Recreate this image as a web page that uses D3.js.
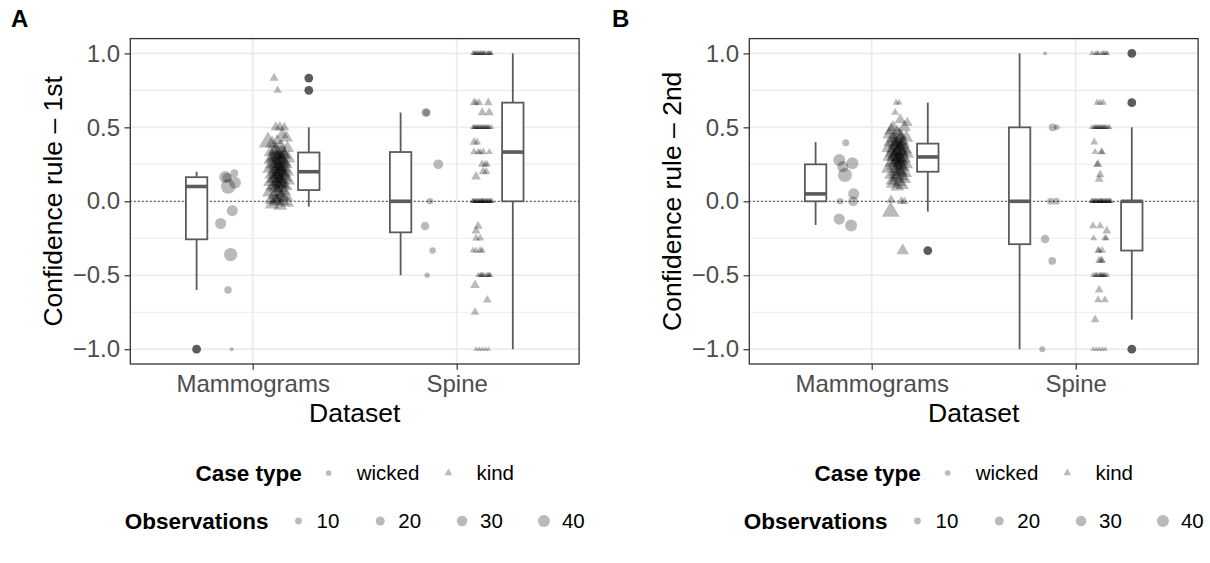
<!DOCTYPE html>
<html>
<head>
<meta charset="utf-8">
<script src="https://cdn.jsdelivr.net/npm/d3@7"></script>
<style>
  body { margin: 0; background: #fff; }
  svg { display: block; font-family: "Liberation Sans", Arial, Helvetica, sans-serif; }
</style>
</head>
<body>
<svg id="chart" width="1210" height="563"></svg>
<script>
const width = 1210;
const height = 563;

const datasets = ["Mammograms", "Spine"];
const caseTypes = ["wicked", "kind"];
const yTicks = [-1, -0.5, 0, 0.5, 1];
const yMinor = [-0.75, -0.25, 0.25, 0.75];
const sizeBreaks = [10, 20, 30, 40];
const yTitles = ["Confidence rule \u2013 1st", "Confidence rule \u2013 2nd"];

// box stats: [lower whisker, q1, median, q3, upper whisker]
const box1stMamWicked = [-0.6, -0.257, 0.1, 0.163, 0.2];
const box1stMamKind = [-0.036, 0.076, 0.2, 0.33, 0.5];
const box1stSpiWicked = [-0.5, -0.21, 0, 0.333, 0.6];
const box1stSpiKind = [-1, 0, 0.333, 0.667, 1];
const out1stMamWicked = [-1];
const out1stMamKind = [0.833, 0.75];

const box2ndMamWicked = [-0.16, 0, 0.05, 0.25, 0.4];
const box2ndMamKind = [-0.07, 0.2, 0.3, 0.39, 0.667];
const box2ndSpiWicked = [-1, -0.29, 0, 0.5, 1];
const box2ndSpiKind = [-0.8, -0.333, 0, 0, 0.5];
const out2ndMamKind = [-0.333];
const out2ndSpiKind = [1, 0.667, -1];

// points: [confidence, observations, jitter (share of category step)]
const pts1stMamWicked = [
  [0.165, 40, -0.01], [0.16, 25, 0.0], [0.19, 14, 0.035], [0.1, 62, 0.005], [0.125, 40, 0.038],
  [-0.063, 34, 0.025], [-0.15, 34, -0.032], [-0.36, 50, 0.017], [-0.6, 13, 0.004], [-1, 2, 0.022]
];
const pts1stMamKind = [
  [0.833, 10, -0.02], [0.75, 8, -0.003], [0.5, 14, -0.012], [0.5, 16, 0.008], [0.5, 12, 0.03],
  [0.4, 55, -0.05],
  [0.45, 22, 0.02], [0.43, 26, 0.04], [0.41, 18, -0.005], [0.39, 28, -0.03], [0.38, 22, 0.012],
  [0.36, 26, 0.045], [0.35, 28, -0.012], [0.34, 22, 0.022], [0.33, 26, -0.038], [0.32, 28, 0.0],
  [0.31, 22, 0.03], [0.30, 26, -0.022], [0.30, 18, 0.014], [0.29, 28, 0.05], [0.28, 26, -0.04],
  [0.28, 22, 0.005], [0.27, 28, 0.026], [0.26, 26, -0.015], [0.25, 22, 0.04], [0.25, 28, -0.03],
  [0.24, 26, 0.01], [0.23, 22, -0.005], [0.22, 28, 0.032], [0.22, 26, -0.045], [0.21, 22, 0.016],
  [0.20, 28, -0.02], [0.20, 26, 0.045], [0.19, 22, 0.0], [0.18, 26, -0.035], [0.18, 28, 0.025],
  [0.17, 22, -0.01], [0.16, 26, 0.035], [0.15, 28, -0.025], [0.15, 22, 0.01], [0.14, 26, 0.05],
  [0.13, 28, -0.04], [0.12, 22, 0.0], [0.12, 26, 0.02], [0.11, 28, -0.015], [0.10, 22, 0.04],
  [0.10, 26, -0.03], [0.09, 28, 0.01], [0.08, 22, -0.005], [0.07, 26, 0.03], [0.06, 28, -0.045],
  [0.05, 22, 0.015], [0.04, 26, -0.02], [0.03, 28, 0.04], [0.02, 22, 0.0], [0.01, 26, -0.035],
  [0.0, 28, 0.02], [0.0, 32, -0.01], [-0.01, 26, 0.045], [-0.02, 32, -0.03], [-0.03, 28, 0.01],
  [0.34, 24, -0.02], [0.33, 24, 0.01], [0.32, 26, 0.03], [0.31, 24, -0.01], [0.30, 26, 0.0],
  [0.29, 24, -0.03], [0.28, 26, 0.015], [0.27, 24, -0.005], [0.26, 26, 0.03], [0.25, 24, 0.0],
  [0.24, 26, -0.02], [0.23, 24, 0.02], [0.22, 26, 0.005], [0.21, 24, -0.015], [0.20, 26, 0.01],
  [0.19, 24, 0.03], [0.18, 26, -0.005], [0.17, 24, 0.015], [0.16, 26, -0.02], [0.15, 24, 0.0],
  [0.14, 26, 0.02], [0.13, 24, -0.01], [0.12, 26, 0.01], [0.11, 24, 0.025], [0.09, 26, -0.015],
  [0.06, 24, 0.0], [0.03, 26, 0.02], [0.01, 24, -0.01]
];
const pts1stSpiWicked = [
  [0.6, 18, -0.027], [0.6, 14, -0.022], [0.25, 25, 0.035], [0.0, 9, -0.006],
  [-0.167, 18, -0.03], [-0.333, 9, 0.007], [-0.5, 5, -0.02]
];
const pts1stSpiKind = [
  [1, 3, -0.045], [1, 2, -0.035], [1, 3, -0.025], [1, 2, -0.015], [1, 3, -0.005], [1, 2, 0.005],
  [1, 3, 0.015], [1, 2, 0.025], [1, 3, 0.035], [1, 2, 0.045], [1, 3, 0.0], [1, 2, -0.02],
  [1, 3, -0.03], [1, 3, -0.01], [1, 3, 0.01], [1, 3, 0.03], [1, 3, 0.04], [1, 3, -0.04],
  [0.667, 9, -0.04], [0.667, 6, -0.03], [0.667, 7, -0.015], [0.667, 9, 0.03],
  [0.6, 10, 0.0], [0.6, 10, 0.035],
  [0.5, 3, -0.045], [0.5, 3, -0.035], [0.5, 3, -0.025], [0.5, 3, -0.015], [0.5, 3, -0.005], [0.5, 3, 0.005],
  [0.5, 3, 0.015], [0.5, 3, 0.025], [0.5, 3, 0.035], [0.5, 3, 0.045], [0.5, 3, 0.0], [0.5, 3, -0.02],
  [0.5, 3, -0.03], [0.5, 3, -0.01], [0.5, 3, 0.01], [0.5, 3, 0.02], [0.5, 3, 0.03], [0.5, 3, -0.04],
  [0.4, 9, -0.04], [0.4, 7, -0.025],
  [0.333, 7, -0.04], [0.333, 5, -0.02], [0.333, 5, -0.01], [0.333, 7, 0.005], [0.333, 5, 0.035],
  [0.25, 9, 0.0], [0.25, 7, 0.015], [0.25, 5, 0.025],
  [0.2, 10, 0.005], [0.2, 7, 0.02], [0.167, 12, -0.03],
  [0, 3, -0.048], [0, 3, -0.04], [0, 3, -0.032], [0, 3, -0.024], [0, 3, -0.016], [0, 3, -0.008],
  [0, 3, 0.0], [0, 3, 0.008], [0, 3, 0.016], [0, 3, 0.024], [0, 3, 0.032], [0, 3, 0.04],
  [0, 3, 0.048], [0, 3, -0.012], [0, 3, 0.012], [0, 3, 0.028],
  [0, 3, -0.044], [0, 3, -0.036], [0, 3, -0.028], [0, 3, -0.02], [0, 3, -0.004], [0, 3, 0.004],
  [0, 3, 0.02], [0, 3, 0.036], [0, 3, 0.044], [0, 3, 0.0],
  [-0.167, 10, -0.02], [-0.2, 10, -0.03], [-0.25, 7, -0.03], [-0.25, 7, -0.01],
  [-0.333, 5, -0.045], [-0.333, 5, -0.03], [-0.333, 7, -0.01], [-0.333, 5, 0.0],
  [-0.5, 3, -0.02], [-0.5, 3, -0.005], [-0.5, 3, 0.005], [-0.5, 3, 0.015], [-0.5, 3, 0.03], [-0.5, 3, 0.04],
  [-0.5, 3, -0.01], [-0.5, 3, 0.0], [-0.5, 3, 0.025], [-0.5, 3, 0.035],
  [-0.567, 12, -0.035], [-0.667, 9, 0.025], [-0.75, 9, -0.035],
  [-1, 2, -0.03], [-1, 2, -0.015], [-1, 2, 0.0], [-1, 2, 0.015], [-1, 2, 0.03]
];

const pts2ndMamWicked = [
  [0.396, 11, -0.002], [0.28, 40, -0.034], [0.257, 40, 0.03], [0.234, 34, -0.017], [0.178, 58, -0.006],
  [0.05, 34, 0.037], [0.0, 9, -0.03], [0.0, 25, 0.034], [-0.12, 34, -0.034], [-0.163, 40, 0.024]
];
const pts2ndMamKind = [
  [0.667, 5, -0.005], [0.667, 4, 0.01], [0.6, 7, -0.01], [0.55, 18, 0.015], [0.53, 15, 0.05],
  [0.5, 22, -0.02], [0.5, 26, 0.035], [0.48, 28, -0.03], [0.47, 22, 0.0], [0.45, 26, -0.04],
  [0.44, 22, 0.02], [0.43, 28, 0.045], [0.42, 26, -0.015], [0.41, 32, 0.01], [0.40, 28, -0.035],
  [0.39, 26, 0.03], [0.38, 28, -0.01], [0.37, 32, 0.015], [0.36, 26, -0.045], [0.35, 28, 0.04],
  [0.34, 26, 0.0], [0.33, 32, -0.025], [0.33, 28, 0.025], [0.32, 26, 0.05], [0.31, 28, -0.015],
  [0.30, 34, 0.01], [0.30, 26, -0.04], [0.29, 28, 0.035], [0.28, 26, -0.005], [0.27, 32, 0.02],
  [0.26, 28, -0.03], [0.25, 26, 0.045], [0.25, 32, 0.0], [0.24, 28, -0.02], [0.23, 26, 0.03],
  [0.22, 28, -0.045], [0.21, 32, 0.01], [0.20, 28, -0.01], [0.19, 26, 0.04], [0.18, 28, -0.03],
  [0.17, 32, 0.02], [0.16, 26, -0.005], [0.15, 28, 0.035], [0.14, 26, -0.025], [0.13, 28, 0.01],
  [0.12, 32, -0.02], [0.11, 26, 0.025], [0.10, 28, 0.0], [0.01, 12, -0.03], [0.0, 10, 0.02],
  [0.0, 8, 0.035], [-0.07, 50, -0.032], [-0.333, 22, 0.027],
  [0.45, 26, 0.01], [0.43, 28, -0.02], [0.41, 26, 0.025], [0.40, 28, 0.0], [0.39, 26, -0.015],
  [0.38, 28, 0.02], [0.37, 26, -0.005], [0.36, 28, 0.015], [0.35, 26, -0.025], [0.34, 28, 0.02],
  [0.33, 26, 0.0], [0.32, 28, -0.01], [0.31, 26, 0.025], [0.30, 28, -0.02], [0.29, 26, 0.005],
  [0.28, 28, 0.02], [0.27, 26, -0.01], [0.26, 28, 0.01], [0.24, 26, 0.02], [0.22, 28, 0.0],
  [0.20, 26, 0.02], [0.18, 28, 0.0]
];
const pts2ndSpiWicked = [
  [1.0, 2, -0.025], [0.5, 14, 0.012], [0.5, 6, 0.032], [0.0, 11, 0.002], [0.0, 11, 0.03],
  [-0.255, 18, -0.025], [-0.403, 14, 0.01], [-1.0, 7, -0.039]
];
const pts2ndSpiKind = [
  [1, 3, -0.045], [1, 2, -0.03], [1, 3, -0.015], [1, 2, 0.0], [1, 3, 0.015], [1, 2, 0.03],
  [1, 3, -0.02], [1, 3, 0.01], [1, 3, 0.025],
  [0.667, 5, -0.02], [0.667, 5, -0.005], [0.667, 5, 0.01],
  [0.5, 3, -0.045], [0.5, 3, -0.035], [0.5, 3, -0.025], [0.5, 3, -0.015], [0.5, 3, -0.005], [0.5, 3, 0.005],
  [0.5, 3, 0.015], [0.5, 3, 0.025], [0.5, 3, 0.035], [0.5, 3, 0.04], [0.5, 3, 0.0], [0.5, 3, -0.02],
  [0.5, 3, -0.03], [0.5, 3, -0.01], [0.5, 3, 0.01], [0.5, 3, 0.02],
  [0.4, 7, -0.034], [0.333, 5, -0.03], [0.333, 7, 0.0], [0.333, 5, 0.005],
  [0.25, 7, -0.02], [0.25, 9, -0.015], [0.18, 9, -0.005], [0.15, 9, -0.01],
  [0, 3, -0.048], [0, 3, -0.04], [0, 3, -0.032], [0, 3, -0.024], [0, 3, -0.016], [0, 3, -0.008],
  [0, 3, 0.0], [0, 3, 0.008], [0, 3, 0.016], [0, 3, 0.024], [0, 3, 0.032], [0, 3, 0.04],
  [0, 3, 0.048], [0, 3, -0.012], [0, 3, 0.012], [0, 3, 0.028],
  [0, 3, -0.044], [0, 3, -0.036], [0, 3, -0.028], [0, 3, -0.02], [0, 3, -0.004], [0, 3, 0.004],
  [0, 3, 0.02], [0, 3, 0.036], [0, 3, 0.044], [0, 3, 0.0],
  [-0.167, 7, -0.04], [-0.167, 7, -0.005], [-0.2, 9, 0.027],
  [-0.25, 5, -0.037], [-0.25, 5, 0.018], [-0.25, 5, 0.025],
  [-0.333, 7, -0.015], [-0.333, 5, -0.01], [-0.333, 7, 0.005],
  [-0.4, 7, -0.01], [-0.4, 9, 0.0], [-0.4, 5, 0.005],
  [-0.5, 3, -0.04], [-0.5, 3, -0.03], [-0.5, 3, -0.02], [-0.5, 3, -0.01], [-0.5, 3, 0.0],
  [-0.5, 3, 0.01], [-0.5, 3, 0.02], [-0.5, 3, 0.03], [-0.5, 3, -0.025], [-0.5, 3, 0.005],
  [-0.5, 3, 0.015], [-0.5, 3, -0.005],
  [-0.6, 9, -0.01], [-0.667, 7, -0.015], [-0.667, 7, 0.018], [-0.8, 9, -0.03],
  [-1, 2, -0.04], [-1, 2, -0.025], [-1, 2, -0.01], [-1, 2, 0.005], [-1, 2, 0.02]
];

const panels = [
  {
    letter: "A", title: yTitles[0], left: 130.3, right: 579.1, letterX: 11,
    groups: [
      { dataset: "Mammograms", type: "wicked", box: box1stMamWicked, out: out1stMamWicked, pts: pts1stMamWicked },
      { dataset: "Mammograms", type: "kind", box: box1stMamKind, out: out1stMamKind, pts: pts1stMamKind },
      { dataset: "Spine", type: "wicked", box: box1stSpiWicked, out: [], pts: pts1stSpiWicked },
      { dataset: "Spine", type: "kind", box: box1stSpiKind, out: [], pts: pts1stSpiKind }
    ]
  },
  {
    letter: "B", title: yTitles[1], left: 749.3, right: 1198.1, letterX: 612,
    groups: [
      { dataset: "Mammograms", type: "wicked", box: box2ndMamWicked, out: [], pts: pts2ndMamWicked },
      { dataset: "Mammograms", type: "kind", box: box2ndMamKind, out: out2ndMamKind, pts: pts2ndMamKind },
      { dataset: "Spine", type: "wicked", box: box2ndSpiWicked, out: [], pts: pts2ndSpiWicked },
      { dataset: "Spine", type: "kind", box: box2ndSpiKind, out: out2ndSpiKind, pts: pts2ndSpiKind }
    ]
  }
];

const svg = d3.select("#chart");
const y = d3.scaleLinear().domain([-1.1, 1.1]).range([364, 38.6]);
const rScale = d3.scaleSqrt().domain([0, 40]).range([0.8, 6.0]);
const shapeOf = { wicked: d3.symbolCircle, kind: d3.symbolTriangle };
const dodge = { wicked: -1, kind: 1 };
const boxCol = "#5b5b5b";
const gridCol = "#EBEBEB";
const pointOpacity = 0.27;

function symbolPath(type, n) {
  const r = rScale(n);
  return d3.symbol(shapeOf[type], Math.PI * r * r)();
}

panels.forEach(drawPanel);

function drawPanel(p) {
  const g = svg.append("g");
  const x = d3.scalePoint().domain(datasets).range([p.left, p.right]).padding(0.6);
  const step = x.step();
  const top = y.range()[1], bottom = y.range()[0];
  const cx = (p.left + p.right) / 2;

  //grid
  g.append("g").selectAll("line").data(yMinor).join("line")
    .attr("x1", p.left).attr("x2", p.right)
    .attr("y1", d => y(d)).attr("y2", d => y(d))
    .attr("stroke", gridCol).attr("stroke-width", 1.1);
  g.append("g").selectAll("line").data(yTicks).join("line")
    .attr("x1", p.left).attr("x2", p.right)
    .attr("y1", d => y(d)).attr("y2", d => y(d))
    .attr("stroke", gridCol).attr("stroke-width", 1.7);
  g.append("g").selectAll("line").data(datasets).join("line")
    .attr("x1", d => x(d)).attr("x2", d => x(d))
    .attr("y1", top).attr("y2", bottom)
    .attr("stroke", gridCol).attr("stroke-width", 1.7);

  // reference line at zero
  g.append("line")
    .attr("x1", p.left).attr("x2", p.right)
    .attr("y1", y(0)).attr("y2", y(0))
    .attr("stroke", "#222").attr("stroke-width", 1.2)
    .attr("stroke-dasharray", "1.2,2.8");

  // jittered points
  p.groups.forEach(grp => {
    g.append("g").selectAll("path").data(grp.pts).join("path")
      .attr("d", d => symbolPath(grp.type, d[1]))
      .attr("transform", d => `translate(${x(grp.dataset) + dodge[grp.type] * 0.125 * step + d[2] * step},${y(d[0])})`)
      .attr("fill", "#000")
      .attr("fill-opacity", pointOpacity);
  });

  // boxplots
  p.groups.forEach(grp => {
    const bx = x(grp.dataset) + dodge[grp.type] * 0.275 * step;
    const hw = 0.0525 * step;
    const [lo, q1, med, q3, hi] = grp.box;
    const bg = g.append("g");
    bg.append("line").attr("x1", bx).attr("x2", bx).attr("y1", y(hi)).attr("y2", y(q3))
      .attr("stroke", boxCol).attr("stroke-width", 1.8);
    bg.append("line").attr("x1", bx).attr("x2", bx).attr("y1", y(q1)).attr("y2", y(lo))
      .attr("stroke", boxCol).attr("stroke-width", 1.8);
    bg.append("rect")
      .attr("x", bx - hw).attr("width", 2 * hw)
      .attr("y", y(q3)).attr("height", Math.max(0.01, y(q1) - y(q3)))
      .attr("fill", "#fff").attr("stroke", boxCol).attr("stroke-width", 1.8);
    bg.append("line").attr("x1", bx - hw).attr("x2", bx + hw).attr("y1", y(med)).attr("y2", y(med))
      .attr("stroke", boxCol).attr("stroke-width", 3.6);
    bg.selectAll("circle").data(grp.out).join("circle")
      .attr("cx", bx).attr("cy", d => y(d)).attr("r", 4.4)
      .attr("fill", boxCol);
  });

  // panel border
  g.append("rect")
    .attr("x", p.left).attr("y", top)
    .attr("width", p.right - p.left).attr("height", bottom - top)
    .attr("fill", "none").attr("stroke", "#333").attr("stroke-width", 1.3);

  // axes
  const yAxis = g.append("g").attr("transform", `translate(${p.left},0)`)
    .call(d3.axisLeft(y).tickValues(yTicks).tickFormat(d3.format(".1f")).tickSize(5.8).tickPadding(4.4));
  const xAxis = g.append("g").attr("transform", `translate(0,${bottom})`)
    .call(d3.axisBottom(x).tickSize(5.8).tickPadding(5.2));
  [yAxis, xAxis].forEach(a => {
    a.select(".domain").remove();
    a.selectAll(".tick line").attr("stroke", "#333").attr("stroke-width", 1.2);
    a.selectAll(".tick text").attr("fill", "#4D4D4D").style("font-size", "24px")
      .style("font-family", "'Liberation Sans', Arial, Helvetica, sans-serif");
  });

  // titles
  g.append("text")
    .attr("transform", `translate(${p.left - 68.8},${(top + bottom) / 2}) rotate(-90)`)
    .attr("text-anchor", "middle").style("font-size", "26.5px").attr("fill", "#000")
    .text(p.title);
  g.append("text")
    .attr("x", cx).attr("y", 421.7).attr("text-anchor", "middle")
    .style("font-size", "26.5px").attr("fill", "#000")
    .text("Dataset");
  g.append("text")
    .attr("x", p.letterX).attr("y", 27)
    .style("font-size", "24px").style("font-weight", "bold")
    .text(p.letter);

  // legends
  legendRow(g, cx, 473, "Case type",
    caseTypes.map(t => ({ label: t, shape: t, n: 6 })),
    { title: 27, label: 28, item: 29 });
  legendRow(g, cx, 521, "Observations",
    sizeBreaks.map(b => ({ label: String(b), shape: "wicked", n: b })),
    { title: 30, label: 18, item: 41 });
}

function legendRow(g, cx, cy, title, items, gaps) {
  const row = g.append("g");
  const t = row.append("text")
    .attr("x", 0).attr("y", cy + 8)
    .style("font-size", "22.5px").style("font-weight", "bold")
    .text(title);
  let pos = t.node().getComputedTextLength();
  items.forEach((it, i) => {
    pos += i === 0 ? gaps.title : gaps.item;
    row.append("path")
      .attr("d", symbolPath(it.shape, it.n))
      .attr("transform", `translate(${pos},${cy})`)
      .attr("fill", "#000").attr("fill-opacity", pointOpacity);
    pos += gaps.label;
    const lt = row.append("text")
      .attr("x", pos).attr("y", cy + 7.4)
      .style("font-size", "20.5px")
      .text(it.label);
    pos += lt.node().getComputedTextLength();
  });
  row.attr("transform", `translate(${cx - pos / 2},0)`);
}
</script>
</body>
</html>
